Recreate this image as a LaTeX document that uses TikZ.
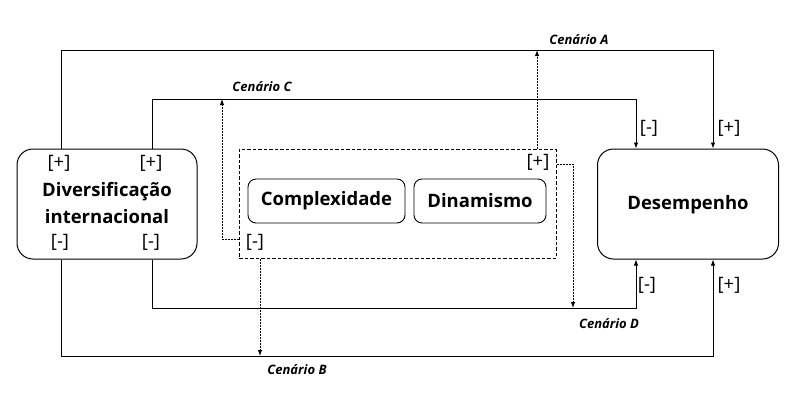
\documentclass[tikz,border=0pt]{standalone}
\usepackage{fontspec}
\setmainfont{Open Sans}
\usetikzlibrary{arrows.meta}
\begin{document}
\begin{tikzpicture}[x=1pt,y=-1pt,
  box/.style={draw,rounded corners=16pt,line width=1pt,inner sep=0pt},
  sbox/.style={draw,rounded corners=8pt,line width=0.9pt,inner sep=0pt},
  dbox/.style={draw,dash pattern=on 3.5pt off 2pt,line width=1pt,inner sep=0pt},
  conn/.style={line width=0.9pt,-{Latex[length=6pt,width=4.5pt]}},
  dconn/.style={line width=1pt,dash pattern=on 2pt off 1pt,-{Latex[length=6pt,width=4.5pt]}},
  sign/.style={font=\fontsize{18.5}{20}\selectfont,inner sep=0pt},
  scen/.style={font=\fontsize{13}{15}\selectfont\bfseries\itshape,inner sep=0pt},
  big/.style={font=\fontsize{18.5}{27}\selectfont\bfseries,inner sep=0pt}
]
\useasboundingbox (0,0) rectangle (800,416);
% main boxes
\node[box,minimum width=180pt,minimum height=110pt] (div) at (107,204) {};
\node[big,align=center] (divt) at (107,203.5) {Diversificação\\internacional};
\node[box,minimum width=181pt,minimum height=110pt] (des) at (688,204) {};
\node[big] (dest) at (688,205) {Desempenho};
\node[dbox,minimum width=317pt,minimum height=109pt] (dash) at (397.5,203.5) {};
\node[sbox,big,minimum width=157pt,minimum height=44pt] (comp) at (326.5,201) {Complexidade};
\node[sbox,big,minimum width=132pt,minimum height=44pt] (din) at (480,201) {Dinamismo};
% signs
\node[sign] (s1) at (59,163) {[+]};
\node[sign] (s2) at (151,163) {[+]};
\node[sign] (s3) at (60,242) {[-]};
\node[sign] (s4) at (151,242) {[-]};
\node[sign] (s5) at (538,162) {[+]};
\node[sign] (s6) at (255,242) {[-]};
\node[sign] (s7) at (649,128) {[-]};
\node[sign] (s8) at (729,128) {[+]};
\node[sign] (s9) at (647,285) {[-]};
\node[sign] (s10) at (729,285) {[+]};
% scenario labels
\node[scen] (lA) at (579,40) {Cenário A};
\node[scen] (lC) at (262,87) {Cenário C};
\node[scen] (lD) at (609,324) {Cenário D};
\node[scen] (lB) at (297,370) {Cenário B};
% corner coordinates
\coordinate (a1) at (61,50);
\coordinate (a2) at (713,50);
\coordinate (c1) at (152,99);
\coordinate (c2) at (636,99);
\coordinate (d1) at (152,308);
\coordinate (d2) at (636,308);
\coordinate (b1) at (61,356);
\coordinate (b2) at (713,356);
% solid connectors
\draw[conn] (div.north -| a1) -- (a1) -- (a2) -- (des.north -| a2);
\draw[conn] (div.north -| c1) -- (c1) -- (c2) -- (des.north -| c2);
\draw[conn] (div.south -| d1) -- (d1) -- (d2) -- (des.south -| d2);
\draw[conn] (div.south -| b1) -- (b1) -- (b2) -- (des.south -| b2);
% dotted connectors
\coordinate (ad) at (537,50);
\coordinate (cd) at (222,239);
\coordinate (dd) at (573,164);
\coordinate (bd) at (260,356);
\draw[dconn] (dash.north -| ad) -- (ad);
\draw[dconn] (dash.west |- cd) -- (cd) -- (cd |- c1);
\draw[dconn] (dash.east |- dd) -- (dd) -- (dd |- d1);
\draw[dconn] (dash.south -| bd) -- (bd);
\end{tikzpicture}
\end{document}
